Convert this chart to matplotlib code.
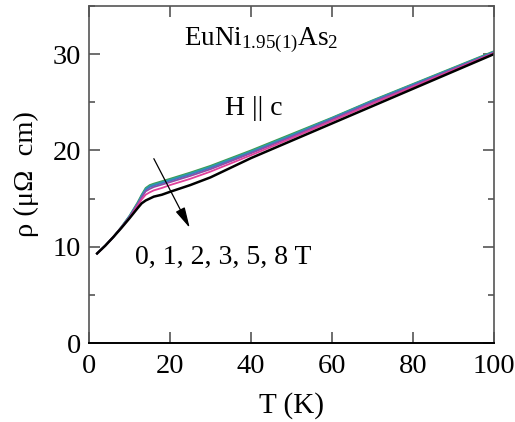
import matplotlib.pyplot as plt
from matplotlib.ticker import MultipleLocator

plt.rcParams['font.family'] = 'Liberation Serif'
plt.rcParams['mathtext.fontset'] = 'custom'
plt.rcParams['mathtext.rm'] = 'Liberation Serif'
plt.rcParams['mathtext.it'] = 'Liberation Serif:italic'

# temperature (K) and resistivity (micro-ohm cm) for each field
T = [2, 4, 6, 8, 10, 12, 13, 14, 15, 16, 18, 20, 25, 30, 40, 50, 60, 70, 80, 90, 100]
rho_0T = [9.3, 10.1, 11.0, 12.05, 13.2, 14.6, 15.4, 16.1, 16.4, 16.55, 16.8, 17.05, 17.7, 18.4,
          20.0, 21.7, 23.4, 25.2, 26.9, 28.6, 30.3]
rho_1T = [9.3, 10.1, 11.0, 12.05, 13.2, 14.5, 15.3, 16.0, 16.3, 16.45, 16.7, 16.95, 17.6, 18.3,
          19.9, 21.6, 23.35, 25.15, 26.85, 28.55, 30.25]
rho_2T = [9.3, 10.1, 11.0, 12.0, 13.1, 14.45, 15.2, 15.9, 16.2, 16.35, 16.6, 16.85, 17.5, 18.2,
          19.8, 21.5, 23.3, 25.1, 26.8, 28.5, 30.2]
rho_3T = [9.3, 10.1, 11.0, 12.0, 13.1, 14.4, 15.1, 15.75, 16.0, 16.2, 16.45, 16.7, 17.35, 18.05,
          19.7, 21.4, 23.2, 25.0, 26.7, 28.45, 30.15]
rho_5T = [9.3, 10.1, 11.0, 12.0, 13.0, 14.25, 14.9, 15.4, 15.65, 15.85, 16.1, 16.4, 17.05, 17.8,
          19.5, 21.25, 23.05, 24.85, 26.6, 28.35, 30.1]
rho_8T = [9.3, 10.1, 11.0, 11.95, 12.95, 14.0, 14.5, 14.8, 15.0, 15.2, 15.4, 15.7, 16.4, 17.2,
          19.2, 21.0, 22.8, 24.6, 26.4, 28.2, 30.0]

fields = ['0 T', '1 T', '2 T', '3 T', '5 T', '8 T']
series = [rho_0T, rho_1T, rho_2T, rho_3T, rho_5T, rho_8T]
colors = ['#3f9a4f', '#2aa3a6', '#3a7fc0', '#8a4fa8', '#e0409a', 'black']
widths = [1.3, 1.3, 1.3, 1.3, 1.3, 1.8]

fig = plt.figure(figsize=(5.15, 4.22), dpi=100)
ax = fig.add_axes([0.1728, 0.1872, 0.7862, 0.7986])

for rho, c, lw, lab in zip(series, colors, widths, fields):
    ax.plot(T, rho, color=c, lw=lw, label=lab)

ax.set_xlim(0, 100)
ax.set_ylim(0, 35)
ax.xaxis.set_major_locator(MultipleLocator(20))
ax.yaxis.set_major_locator(MultipleLocator(10))
ax.yaxis.set_minor_locator(MultipleLocator(5))
ax.tick_params(which='both', direction='in', top=True, right=True,
               labelsize=20.5, color='#555555')
ax.tick_params(axis='y', pad=5.5)
ax.tick_params(axis='x', pad=8)
ax.tick_params(which='major', length=8, width=1.2)
ax.tick_params(which='minor', length=4, width=1.2)
for side in ['left', 'right', 'top']:
    ax.spines[side].set_color('#555555')
    ax.spines[side].set_linewidth(1.2)
ax.spines['bottom'].set_linewidth(1.4)

ax.set_xlabel('T (K)', fontsize=21, labelpad=9)
ax.set_ylabel('ρ (μΩ  cm)', fontsize=20.5, labelpad=10)

ax.text(42.5, 30.9, r'EuNi$_{1.95(1)}$As$_2$', fontsize=19.5, ha='center', va='baseline')
ax.text(40.6, 23.7, 'H || c', fontsize=20, ha='center', va='baseline')
ax.text(33.2, 8.25, '0, 1, 2, 3, 5, 8 T', fontsize=20, ha='center', va='baseline')
ax.annotate('', xy=(25.2, 11.7), xytext=(15.7, 19.4),
            arrowprops=dict(arrowstyle='-|>,head_width=0.22,head_length=0.9',
                            color='black', lw=0.9, mutation_scale=14))

fig.savefig('out.png', dpi=100)
